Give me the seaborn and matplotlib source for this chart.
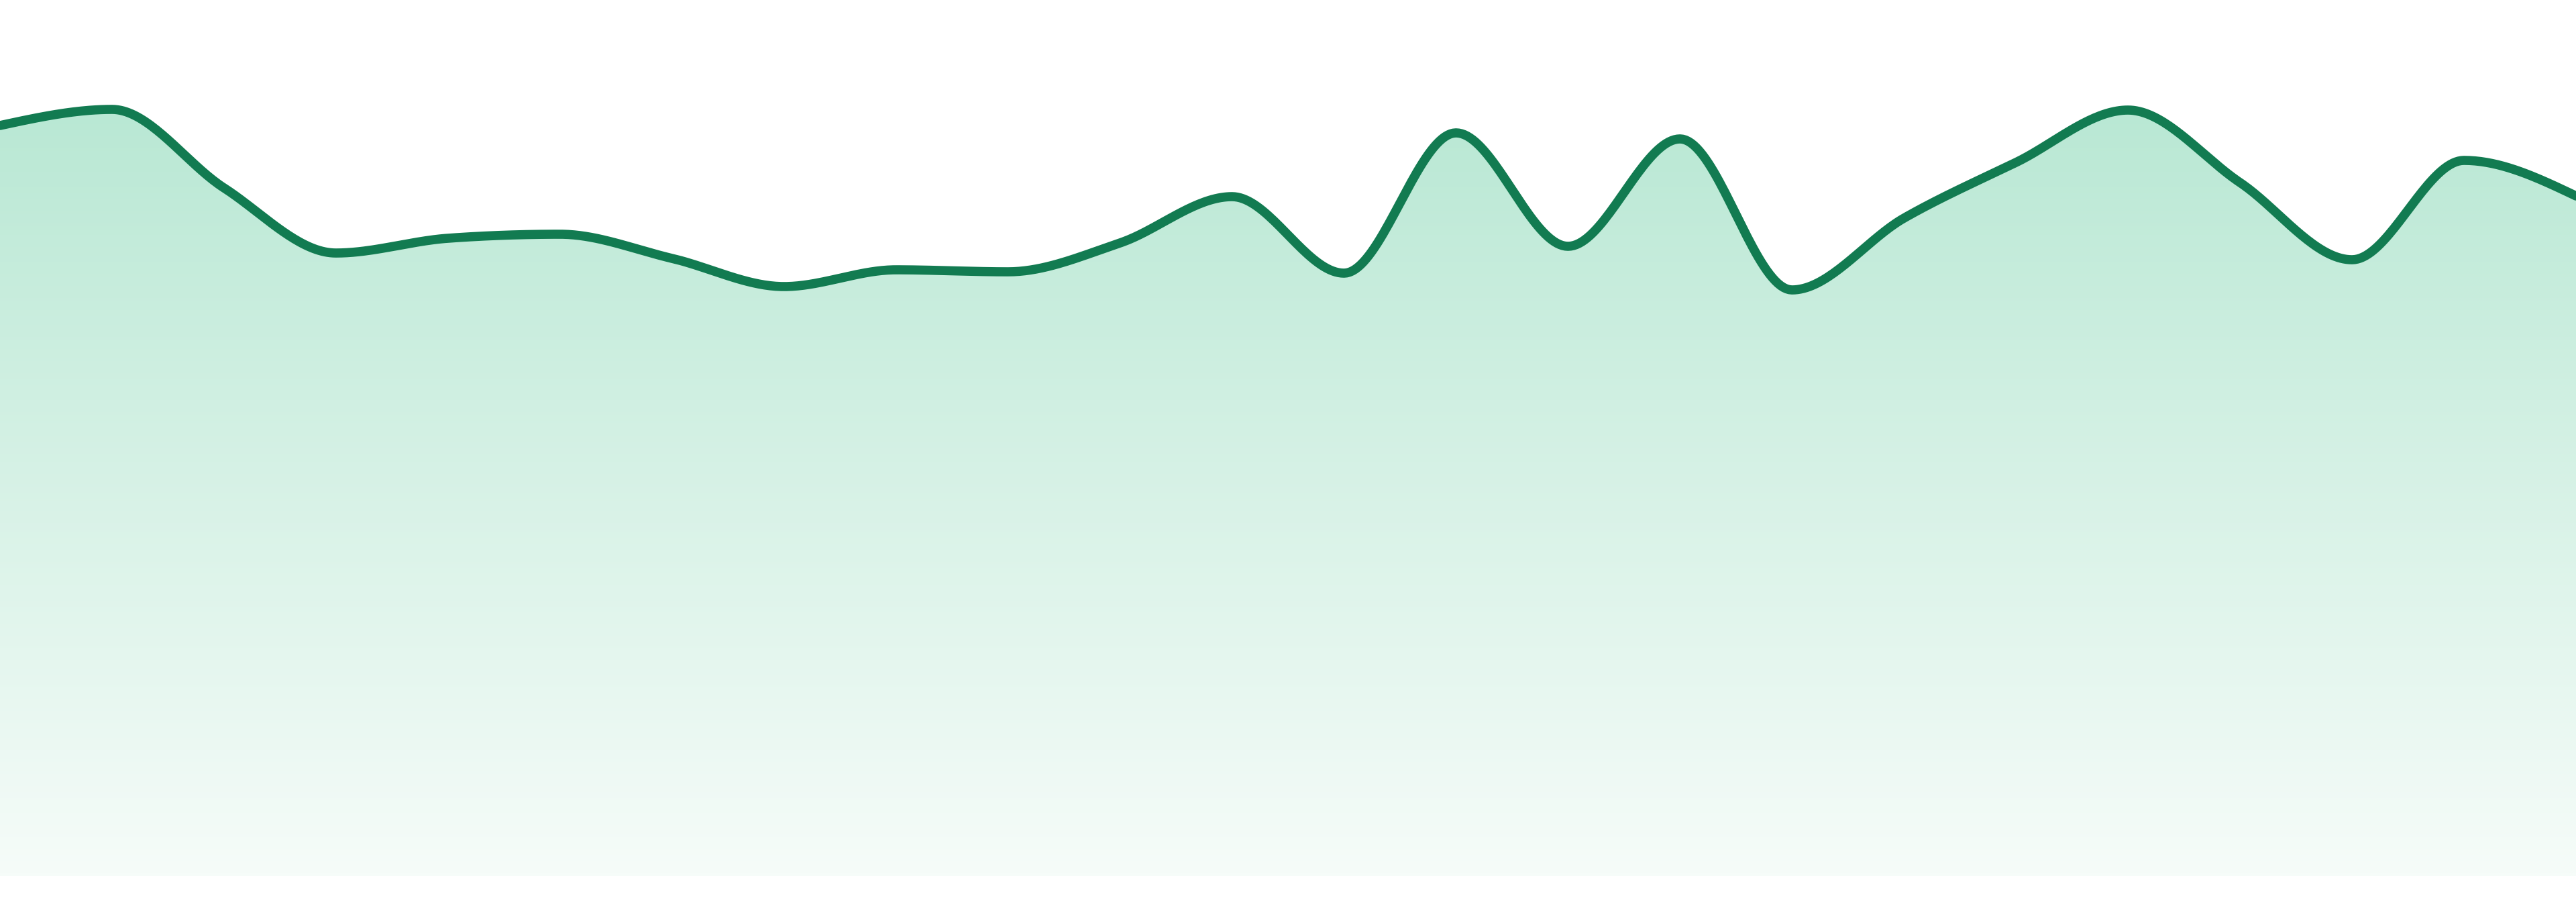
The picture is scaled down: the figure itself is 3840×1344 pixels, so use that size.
import numpy as np
import pandas as pd
import seaborn as sns
from matplotlib import pyplot as plt
from matplotlib.colors import LinearSegmentedColormap

# data
periods = list(range(24))
values = [111.8, 114.2, 102.5, 92.8, 95.0, 95.6, 92.0, 87.8, 90.3, 90.0, 94.3, 101.2,
          89.8, 110.7, 93.8, 109.8, 87.3, 98.0, 106.3, 114.1, 103.3, 91.8, 106.6, 101.3]

line_color = "#127b51"
fill_top = "#b9e8d4"
fill_bottom = "#f6fcf9"


def monotone_x(x, y, n=40):
    # d3 curveMonotoneX style smoothing
    x = np.asarray(x, float)
    y = np.asarray(y, float)
    h = np.diff(x)
    s = np.diff(y) / h
    m = np.zeros(len(x))
    for i in range(1, len(x) - 1):
        p = (s[i - 1] * h[i] + s[i] * h[i - 1]) / (h[i - 1] + h[i])
        m[i] = (np.sign(s[i - 1]) + np.sign(s[i])) * min(abs(s[i - 1]), abs(s[i]), 0.5 * abs(p))
    m[0] = (3 * s[0] - m[1]) / 2
    m[-1] = (3 * s[-1] - m[-2]) / 2
    xs, ys = [], []
    for i in range(len(x) - 1):
        t = np.linspace(0, 1, n, endpoint=False)
        h00 = 2 * t**3 - 3 * t**2 + 1
        h10 = t**3 - 2 * t**2 + t
        h01 = -2 * t**3 + 3 * t**2
        h11 = t**3 - t**2
        xs.append(x[i] + t * h[i])
        ys.append(h00 * y[i] + h10 * h[i] * m[i] + h01 * y[i + 1] + h11 * h[i] * m[i + 1])
    xs.append([x[-1]])
    ys.append([y[-1]])
    return np.concatenate(xs), np.concatenate(ys)


sx, sy = monotone_x(periods, values)
curve = pd.DataFrame({"period": sx, "value": sy})

sns.set_theme(style="white")
fig = plt.figure(figsize=(19.2, 6.72), dpi=200)
ax = fig.add_axes([0, 0, 1, 1])

ymin, ymax = -3.9, 130.5
top = max(values)

# gradient fill under the line
poly = ax.fill_between(curve["period"], curve["value"], 0, color="none", lw=0)
cmap = LinearSegmentedColormap.from_list("g", [fill_bottom, fill_top])
grad = np.linspace(0, 1, 256).reshape(-1, 1)
img = ax.imshow(grad, cmap=cmap, aspect="auto", origin="lower",
                extent=[0, periods[-1], 0, top], zorder=1)
img.set_clip_path(poly.get_paths()[0], transform=ax.transData)

sns.lineplot(data=curve, x="period", y="value", color=line_color, linewidth=4.9,
             ax=ax, zorder=3, estimator=None, sort=False)

ax.set_xlim(0, periods[-1])
ax.set_ylim(ymin, ymax)
ax.axis("off")

fig.savefig("out.png", dpi=200, facecolor="white")
